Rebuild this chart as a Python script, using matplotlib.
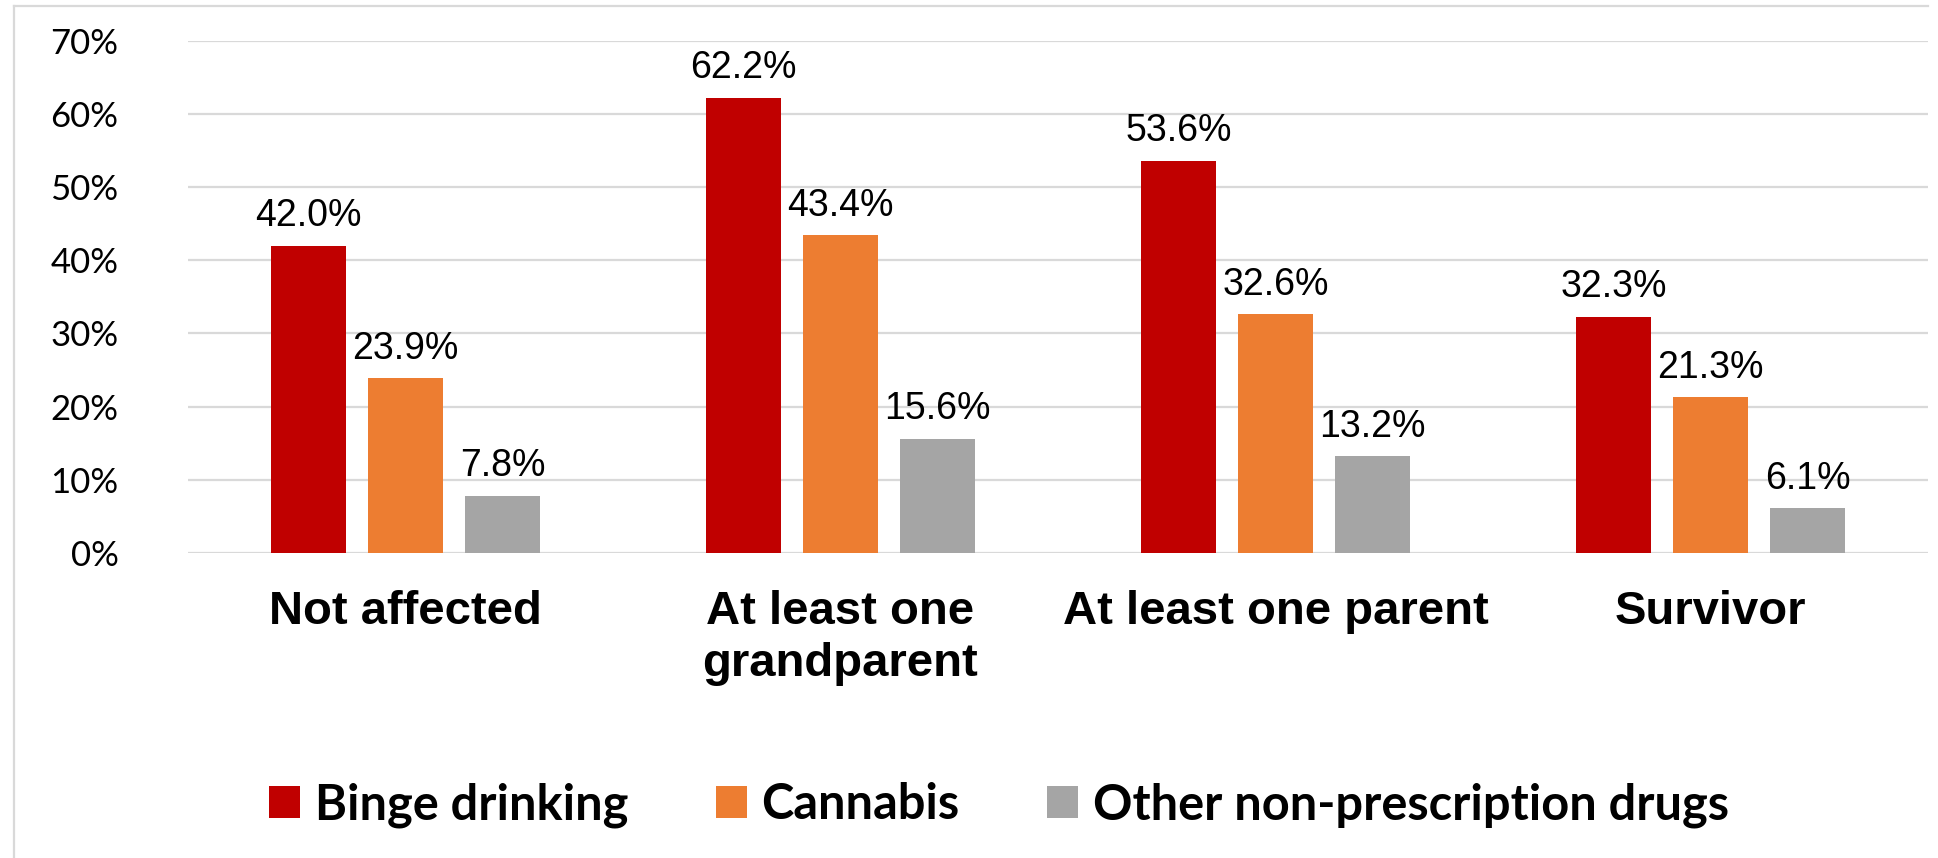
import matplotlib
matplotlib.use("Agg")
import matplotlib.pyplot as plt
from matplotlib.lines import Line2D
from matplotlib.patches import Patch
import numpy as np

categories = ["Not affected", "At least one\ngrandparent", "At least one parent", "Survivor"]
series_names = ["Binge drinking", "Cannabis", "Other non-prescription drugs"]
binge = [42.0, 62.2, 53.6, 32.3]
cannabis = [23.9, 43.4, 32.6, 21.3]
other = [7.8, 15.6, 13.2, 6.1]
yticks = [0, 10, 20, 30, 40, 50, 60, 70]
colors = ["#C00000", "#ED7D31", "#A5A5A5"]

W, H = 1938, 858
fig = plt.figure(figsize=(W / 100, H / 100), dpi=100)
fig.patch.set_facecolor("white")

left_px, right_px, top_px, bottom_px = 188, 1928, 40.5, 553
ax = fig.add_axes([left_px / W, 1 - bottom_px / H, (right_px - left_px) / W, (bottom_px - top_px) / H])

x = np.arange(len(categories))
width = 0.173
step = 0.223
for j, (vals, col) in enumerate(zip([binge, cannabis, other], colors)):
    pos = x + (j - 1) * step
    ax.bar(pos, vals, width=width, color=col, zorder=3, label=series_names[j])
    for xp, v in zip(pos, vals):
        ax.annotate(f"{v:.1f}%", (xp, v), xytext=(0, 14), textcoords="offset points",
                    ha="center", va="baseline", fontsize=27, family="Liberation Sans", color="black")

ax.set_xlim(-0.5, len(categories) - 0.5)
ax.set_ylim(0, 70)
ax.set_yticks(yticks)
ax.set_yticklabels([f"{t}%" for t in yticks], family="Lato", fontsize=25)
ax.yaxis.grid(True, color="#D9D9D9", linewidth=1.6, zorder=0)
ax.set_axisbelow(True)
ax.tick_params(axis="y", length=0, pad=50)
ax.tick_params(axis="x", length=0, pad=27)
ax.set_xticks(x)
ax.set_xticklabels(categories, family="Liberation Sans", fontweight="bold", fontsize=34, linespacing=1.22)
for s in ax.spines.values():
    s.set_visible(False)

# outer border (left and top)
fig.add_artist(Line2D([14 / W, 14 / W], [0, 1 - 6 / H], transform=fig.transFigure, color="#D9D9D9", lw=1.6))
fig.add_artist(Line2D([14 / W, 1928 / W], [1 - 6 / H, 1 - 6 / H], transform=fig.transFigure, color="#D9D9D9", lw=1.6))

handles = [Patch(facecolor=c, edgecolor="none") for c in colors]
leg = fig.legend(handles, series_names, loc="center", bbox_to_anchor=(999 / W, 1 - 805 / H), ncol=3,
                 frameon=False, prop={"family": "Lato", "weight": "bold", "size": 35.1},
                 handlelength=0.63, handleheight=0.63, handletextpad=0.3, columnspacing=1.8)

fig.savefig("out.png", dpi=100, facecolor="white")
